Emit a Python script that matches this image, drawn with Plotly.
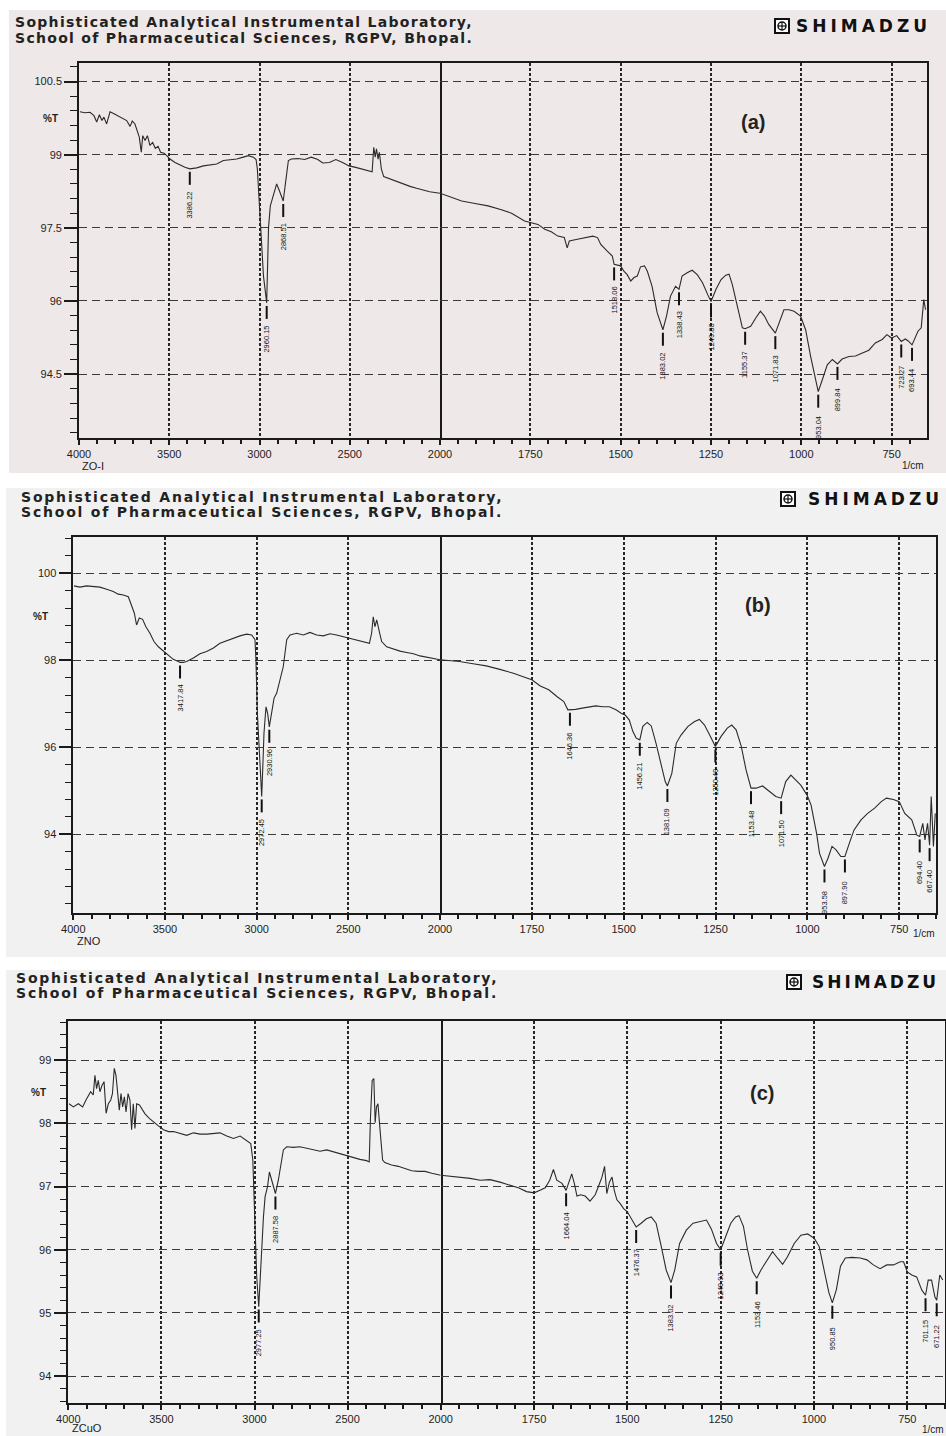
import numpy as np
import plotly.graph_objects as go

W, H = 946, 1436

# ---------------- Panel (a) : ZO-I ----------------
a_wavenumber = [3995, 3967, 3939, 3917, 3902, 3887, 3873, 3862, 3847, 3828, 3806, 3782, 3758, 3736, 3717,
                3705, 3690, 3677, 3666, 3655, 3647, 3634, 3621, 3607, 3592, 3577, 3562, 3548, 3529, 3514,
                3496, 3468, 3440, 3413, 3386.22, 3348, 3311, 3274, 3237, 3200, 3163, 3126, 3090, 3062, 3034,
                3019, 3012, 3002, 2990, 2978, 2960.15, 2955, 2950, 2940, 2928, 2905, 2893, 2868.51, 2858,
                2850, 2840, 2823, 2786, 2750, 2713, 2677, 2650, 2613, 2577, 2540, 2504, 2467, 2431, 2394,
                2376, 2367, 2359, 2352, 2343, 2336, 2325, 2312, 2276, 2239, 2203, 2166, 2130, 2093, 2057,
                2000,
                1940, 1903, 1867, 1830, 1802, 1766, 1750, 1729, 1710, 1692, 1674, 1656, 1648, 1642, 1623,
                1600, 1577, 1564, 1555, 1537, 1523, 1518.06, 1500, 1491, 1482, 1472, 1463, 1454, 1445, 1434,
                1426, 1413, 1399, 1383.02, 1373, 1362, 1348, 1338.43, 1330, 1316, 1302, 1288, 1273, 1259,
                1249.80, 1236, 1222, 1209, 1200, 1191, 1177, 1163, 1155.37, 1140, 1126, 1113, 1102, 1090,
                1071.83, 1062, 1048, 1034, 1020, 1002, 988, 974, 960, 953.04, 942, 928, 914, 899.84, 887,
                868, 850, 831, 813, 795, 776, 763, 750, 736, 723.27, 712, 704, 693.44, 686, 677, 668, 661, 656]
a_transmittance = [99.88, 99.86, 99.87, 99.80, 99.67, 99.82, 99.70, 99.77, 99.63, 99.88, 99.84, 99.79, 99.75,
                   99.70, 99.58, 99.69, 99.63, 99.46, 99.36, 99.05, 99.39, 99.29, 99.39, 99.19, 99.25, 99.13,
                   99.17, 99.05, 99.03, 98.98, 98.91, 98.84, 98.79, 98.74, 98.71, 98.73, 98.77, 98.79, 98.81,
                   98.88, 98.90, 98.91, 98.95, 98.98, 98.95, 98.90, 98.71, 98.09, 97.20, 96.51, 95.96, 96.90,
                   97.50, 97.95, 98.12, 98.40, 98.29, 98.05, 98.36, 98.64, 98.88, 98.91, 98.92, 98.90, 98.95,
                   98.90, 98.83, 98.84, 98.90, 98.84, 98.77, 98.74, 98.71, 98.67, 98.65, 99.15, 98.95, 99.12,
                   98.91, 99.05, 98.71, 98.55, 98.50, 98.44, 98.40, 98.35, 98.31, 98.27, 98.24, 98.21,
                   98.05, 98.00, 97.95, 97.87, 97.80, 97.64, 97.61, 97.57, 97.47, 97.42, 97.33, 97.30, 97.09,
                   97.23, 97.26, 97.30, 97.33, 97.30, 97.16, 97.02, 96.92, 96.75, 96.72, 96.61, 96.54, 96.41,
                   96.48, 96.51, 96.70, 96.72, 96.61, 96.30, 95.76, 95.41, 95.69, 96.10, 96.30, 96.24, 96.51,
                   96.58, 96.63, 96.54, 96.37, 96.13, 95.99, 96.24, 96.44, 96.53, 96.55, 96.34, 95.90, 95.45,
                   95.43, 95.48, 95.65, 95.79, 95.69, 95.52, 95.34, 95.55, 95.82, 95.82, 95.79, 95.69, 95.41,
                   94.86, 94.38, 94.14, 94.38, 94.69, 94.80, 94.71, 94.81, 94.86, 94.87, 94.93, 94.99, 95.14,
                   95.21, 95.31, 95.24, 95.29, 95.17, 95.22, 95.18, 95.10, 95.24, 95.38, 95.45, 96.03, 95.82]
a_peaks = ["3386.22", "2960.15", "2868.51", "1518.06", "1383.02", "1338.43", "1249.80", "1155.37",
           "1071.83", "953.04", "899.84", "723.27", "693.44"]

# ---------------- Panel (b) : ZnO ----------------
b_wavenumber = [3996, 3964, 3927, 3891, 3855, 3818, 3782, 3755, 3727, 3700, 3682, 3667, 3655, 3640, 3622,
                3604, 3582, 3560, 3536, 3509, 3482, 3455, 3427, 3417.84, 3400, 3382, 3345, 3309, 3273, 3236,
                3200, 3164, 3127, 3091, 3055, 3027, 3009, 3004, 2996, 2989, 2982, 2972.45, 2967, 2960, 2949,
                2940, 2930.96, 2918, 2905, 2891, 2873, 2855, 2836, 2818, 2782, 2745, 2709, 2673, 2636, 2600,
                2564, 2527, 2491, 2454, 2418, 2385, 2373, 2364, 2355, 2345, 2331, 2318, 2291, 2255, 2218,
                2182, 2145, 2109, 2073, 2036, 2000,
                1947, 1910, 1874, 1837, 1800, 1764, 1750, 1727, 1704, 1681, 1663, 1652, 1646.36, 1631, 1613,
                1594, 1576, 1558, 1539, 1521, 1507, 1496, 1485, 1475, 1466, 1456.21, 1448, 1436, 1425, 1412,
                1398, 1387, 1381.09, 1369, 1357, 1344, 1325, 1307, 1294, 1280, 1266, 1250.49, 1235, 1218,
                1206, 1194, 1180, 1167, 1153.48, 1140, 1122, 1104, 1086, 1071.50, 1059, 1045, 1032, 1018,
                1001, 990, 975, 967, 953.58, 944, 933, 922, 909, 897.90, 886, 873, 854, 836, 817, 799, 785,
                766, 750, 735, 716, 702, 694.40, 686, 680, 673, 667.40, 663, 657, 652]
b_transmittance = [99.71, 99.68, 99.71, 99.69, 99.68, 99.63, 99.58, 99.52, 99.50, 99.46, 99.23, 99.08, 98.81,
                   98.97, 98.94, 98.77, 98.62, 98.43, 98.31, 98.22, 98.12, 98.02, 97.97, 97.95, 97.95, 97.97,
                   98.05, 98.15, 98.20, 98.28, 98.39, 98.45, 98.51, 98.56, 98.60, 98.58, 98.47, 98.01, 96.78,
                   96.17, 95.48, 94.87, 95.48, 96.32, 96.93, 96.78, 96.47, 96.86, 97.13, 97.24, 97.55, 97.85,
                   98.47, 98.58, 98.62, 98.58, 98.64, 98.58, 98.56, 98.61, 98.58, 98.54, 98.51, 98.47, 98.43,
                   98.39, 98.62, 99.00, 98.77, 98.93, 98.66, 98.43, 98.31, 98.26, 98.21, 98.18, 98.15, 98.10,
                   98.07, 98.03, 98.01,
                   97.97, 97.92, 97.87, 97.79, 97.70, 97.59, 97.55, 97.41, 97.32, 97.16, 97.05, 96.86, 96.86,
                   96.87, 96.90, 96.92, 96.95, 96.93, 96.93, 96.86, 96.78, 96.74, 96.63, 96.36, 96.21, 96.17,
                   96.48, 96.57, 96.49, 96.09, 95.56, 95.21, 95.11, 95.40, 96.09, 96.28, 96.48, 96.59, 96.64,
                   96.51, 96.28, 96.02, 96.25, 96.44, 96.51, 96.40, 96.02, 95.48, 95.06, 95.06, 95.11, 94.98,
                   94.87, 94.83, 95.21, 95.36, 95.25, 95.13, 94.90, 94.67, 94.02, 93.56, 93.26, 93.45, 93.72,
                   93.64, 93.49, 93.49, 93.79, 94.10, 94.33, 94.48, 94.60, 94.75, 94.83, 94.80, 94.75, 94.48,
                   94.33, 93.98, 93.95, 94.25, 93.87, 94.25, 93.75, 94.87, 93.72, 94.48]
b_peaks = ["3417.84", "2972.45", "2930.96", "1646.36", "1456.21", "1381.09", "1250.49", "1153.48",
           "1071.50", "953.58", "897.90", "694.40", "667.40"]

# ---------------- Panel (c) : ZnCuO ----------------
c_wavenumber = [3996, 3973, 3946, 3923, 3905, 3892, 3880, 3866, 3857, 3848, 3839, 3830, 3819, 3808, 3797,
                3785, 3772, 3763, 3753, 3744, 3735, 3726, 3717, 3708, 3699, 3690, 3679, 3669, 3660, 3651,
                3642, 3633, 3618, 3606, 3588, 3565, 3543, 3516, 3489, 3462, 3435, 3400, 3364, 3328, 3292,
                3256, 3220, 3185, 3149, 3113, 3077, 3041, 3020, 3009, 3002, 2995, 2988, 2977.25, 2970, 2961,
                2952, 2943, 2930, 2920, 2907, 2895, 2887.58, 2872, 2859, 2845, 2827, 2791, 2756, 2720, 2684,
                2648, 2612, 2577, 2541, 2505, 2470, 2434, 2398, 2384, 2377, 2368, 2359, 2352, 2345, 2337,
                2327, 2312, 2300, 2264, 2228, 2192, 2156, 2120, 2084, 2048, 2000,
                1948, 1921, 1894, 1868, 1841, 1814, 1792, 1770, 1750, 1734, 1720, 1708, 1698, 1689, 1675,
                1664.04, 1655, 1649, 1642, 1635, 1625, 1613, 1600, 1586, 1577, 1568, 1561, 1555, 1548, 1541,
                1535, 1528, 1519, 1510, 1500, 1489, 1476.37, 1463, 1449, 1436, 1423, 1409, 1396, 1383.02,
                1373, 1360, 1342, 1324, 1306, 1288, 1275, 1261, 1249.93, 1237, 1223, 1210, 1201, 1189, 1178,
                1165, 1153.46, 1142, 1129, 1111, 1098, 1084, 1071, 1053, 1035, 1017, 999, 986, 973, 960,
                950.85, 940, 929, 916, 898, 876, 858, 841, 823, 805, 787, 769, 760, 750, 738, 725, 711,
                701.15, 694, 685, 676, 671.22, 663, 655]
c_transmittance = [98.31, 98.26, 98.31, 98.26, 98.37, 98.43, 98.50, 98.45, 98.76, 98.55, 98.68, 98.50, 98.60,
                   98.66, 98.16, 98.31, 98.37, 98.47, 98.87, 98.76, 98.53, 98.21, 98.47, 98.26, 98.42, 98.18,
                   98.47, 98.37, 97.90, 98.31, 97.92, 98.31, 98.29, 98.24, 98.15, 98.08, 98.02, 97.96, 97.90,
                   97.87, 97.87, 97.84, 97.81, 97.85, 97.83, 97.83, 97.84, 97.85, 97.80, 97.76, 97.80, 97.73,
                   97.68, 97.42, 96.89, 96.10, 95.57, 95.10, 95.52, 95.99, 96.52, 96.84, 97.00, 97.23, 97.10,
                   96.94, 96.89, 97.10, 97.36, 97.58, 97.63, 97.62, 97.63, 97.61, 97.58, 97.56, 97.58, 97.55,
                   97.51, 97.48, 97.46, 97.43, 97.41, 97.39, 98.10, 98.68, 98.71, 98.01, 98.26, 98.31, 97.94,
                   97.42, 97.38, 97.34, 97.32, 97.29, 97.25, 97.24, 97.24, 97.21, 97.18,
                   97.15, 97.13, 97.10, 97.11, 97.07, 97.02, 96.98, 96.92, 96.90, 96.94, 96.98, 97.10, 97.27,
                   97.10, 97.05, 96.94, 97.10, 97.20, 97.05, 96.85, 96.87, 96.85, 96.77, 96.87, 97.01, 97.15,
                   97.32, 96.89, 97.07, 97.15, 96.94, 96.79, 96.73, 96.65, 96.60, 96.49, 96.36, 96.42, 96.49,
                   96.52, 96.42, 96.05, 95.68, 95.48, 95.68, 96.10, 96.31, 96.42, 96.45, 96.47, 96.33, 96.10,
                   96.00, 96.21, 96.42, 96.52, 96.54, 96.37, 96.00, 95.66, 95.55, 95.68, 95.81, 95.97, 95.87,
                   95.77, 95.89, 96.10, 96.23, 96.25, 96.18, 96.05, 95.68, 95.32, 95.16, 95.37, 95.74, 95.87,
                   95.88, 95.87, 95.84, 95.76, 95.70, 95.76, 95.76, 95.81, 95.81, 95.65, 95.60, 95.57, 95.36,
                   95.28, 95.52, 95.52, 95.25, 95.20, 95.60, 95.52]
c_peaks = ["2977.25", "2887.58", "1664.04", "1476.37", "1383.02", "1249.93", "1153.46", "950.85",
           "701.15", "671.22"]

header_1 = "Sophisticated Analytical Instrumental Laboratory,"
header_2 = "School of Pharmaceutical Sciences, RGPV, Bhopal."
brand = "SHIMADZU"

# ---------------- layout helpers (pixel geometry) ----------------
def fx(p):
    return p / W


def fy(p):
    return 1 - p / H


panels = [
    dict(wn=a_wavenumber, t=a_transmittance, peaks=a_peaks, sample="ZO-I", tag="(a)",
         left=79, mid=440, right=927, top=63, bottom=438, yrange=[93.19, 100.88], ydtick=1.5, yminor=0.3,
         xend=652, bg=(9, 10, 946, 473, "#efe8e8"), head=(14, 22, 38, 14, 1.3),
         logo=(775, 19, 33, 795, 17, 4), pt=(50, 119), samp=(93, 466), unit=(913, 465), tagpos=(753, 122)),
    dict(wn=b_wavenumber, t=b_transmittance, peaks=b_peaks, sample="ZNO", tag="(b)",
         left=73.3, mid=440, right=936, top=536.7, bottom=913, yrange=[92.19, 100.84], ydtick=2, yminor=0.4,
         xend=650, bg=(6, 488, 946, 957, "#f1f1f1"), head=(20, 497, 512, 14, 1.8),
         logo=(781, 492, 506, 807, 17, 4), pt=(40, 617), samp=(89, 941), unit=(924, 934), tagpos=(758, 605)),
    dict(wn=c_wavenumber, t=c_transmittance, peaks=c_peaks, sample="ZCuO", tag="(c)",
         left=68.3, mid=440.7, right=945, top=1021, bottom=1403.3, yrange=[93.57, 99.62], ydtick=1, yminor=0.2,
         xend=649, bg=(6, 970, 946, 1436, "#f1f1f1"), head=(15, 978, 993, 14, 1.8),
         logo=(787, 975, 989, 811, 17, 3), pt=(38, 1092), samp=(87, 1428), unit=(933, 1429), tagpos=(762, 1093)),
]

fig = go.Figure()
layout = dict(width=W, height=H, margin=dict(l=0, r=0, t=0, b=0, autoexpand=False), paper_bgcolor="white",
              plot_bgcolor="rgba(0,0,0,0)", showlegend=False)
shapes = []
annotations = []

INK = "#1a1a1a"
XGRID = "#262626"
YGRID = "#3a3a3a"
TICKFONT = dict(family="Liberation Sans, Arial, sans-serif", size=11, color="#1e1e1e")
LINE_TOP, LINE_BOTTOM = 3, 16          # peak marker line (pixels below the dip)


def note(text, x, y, size, bold=False, family="Liberation Sans, Arial", color="#222"):
    return dict(text=f"<b>{text}</b>" if bold else text, x=fx(x), y=fy(y), xref="paper", yref="paper",
                xanchor="center", yanchor="middle", showarrow=False, borderpad=0,
                font=dict(family=family, size=size, color=color))


for i, p in enumerate(panels):
    n1, n2 = 2 * i + 1, 2 * i + 2
    xa1 = "x" if n1 == 1 else f"x{n1}"
    xa2 = f"x{n2}"
    ya1 = "y" if n1 == 1 else f"y{n1}"
    ya2 = f"y{n2}"
    xk1 = "xaxis" if n1 == 1 else f"xaxis{n1}"
    xk2 = f"xaxis{n2}"
    yk1 = "yaxis" if n1 == 1 else f"yaxis{n1}"
    yk2 = f"yaxis{n2}"

    wn = np.array(p["wn"], dtype=float)
    t = np.array(p["t"], dtype=float)
    hi = wn >= 2000
    lo = wn <= 2000
    fig.add_trace(go.Scatter(x=wn[hi], y=t[hi], xaxis=xa1, yaxis=ya1, mode="lines",
                             line=dict(color="#2b2b2b", width=1.1), hoverinfo="skip"))
    fig.add_trace(go.Scatter(x=wn[lo], y=t[lo], xaxis=xa2, yaxis=ya2, mode="lines",
                             line=dict(color="#2b2b2b", width=1.1), hoverinfo="skip"))

    dom1 = [fx(p["left"]), fx(p["mid"])]
    dom2 = [fx(p["mid"]), fx(p["right"])]
    ydom = [fy(p["bottom"]), fy(p["top"])]

    common_x = dict(ticks="outside", ticklen=5, tickwidth=1.5, tickcolor=INK, automargin=False,
                    showgrid=True, gridcolor=XGRID, gridwidth=1.6, griddash="3px,2px",
                    showline=True, linecolor=INK, linewidth=1.6, mirror=True, zeroline=False,
                    tickfont=TICKFONT, fixedrange=True)
    layout[xk1] = dict(common_x, domain=dom1, range=[4000, 2000], anchor=ya1,
                       tickmode="array", tickvals=[4000, 3500, 3000, 2500, 2000],
                       minor=dict(tickmode="array", tickvals=[3900, 3800, 3700, 3600, 3400, 3300, 3200, 3100,
                                                              2900, 2800, 2700, 2600, 2400, 2300, 2200, 2100],
                                  ticks="outside", ticklen=4, tickwidth=1.5, tickcolor=INK, showgrid=False))
    layout[xk2] = dict(common_x, domain=dom2, range=[2000, p["xend"]], anchor=ya2,
                       tickmode="array", tickvals=[1750, 1500, 1250, 1000, 750],
                       minor=dict(tickmode="array", tickvals=[1950, 1900, 1850, 1800, 1700, 1650, 1600, 1550,
                                                              1450, 1400, 1350, 1300, 1200, 1150, 1100, 1050,
                                                              950, 900, 850, 800, 700, 650],
                                  ticks="outside", ticklen=4, tickwidth=1.5, tickcolor=INK, showgrid=False))
    common_y = dict(range=p["yrange"], domain=ydom, showgrid=True, gridcolor=YGRID, gridwidth=1.1,
                    griddash="8px,5px", zeroline=False, fixedrange=True, automargin=False,
                    tickmode="linear", tick0=0, dtick=p["ydtick"])
    layout[yk1] = dict(common_y, anchor=xa1, ticks="outside", ticklen=13, tickwidth=1.5, tickcolor=INK,
                       showline=True, linecolor=INK, linewidth=1.6, mirror=True, tickfont=TICKFONT,
                       minor=dict(dtick=p["yminor"], tick0=0, ticks="outside", ticklen=7, tickwidth=1.3,
                                  tickcolor=INK, showgrid=False))
    layout[yk2] = dict(common_y, anchor=xa2, matches=ya1, ticks="", showticklabels=False, side="right",
                       showline=True, linecolor=INK, linewidth=1.6, mirror=False)

    # panel background
    bx0, by0, bx1, by1, bcol = p["bg"]
    shapes.append(dict(type="rect", xref="paper", yref="paper", x0=fx(bx0), x1=fx(bx1), y0=fy(by1), y1=fy(by0),
                       fillcolor=bcol, line=dict(width=0), layer="below"))

    # header text (letter-spaced bold, like the instrument printout)
    hx, hy1, hy2, hs, ls = p["head"]
    for txt, yy in ((header_1, hy1), (header_2, hy2)):
        annotations.append(dict(text=f"<span style='letter-spacing:{ls}px'><b>{txt}</b></span>",
                                x=fx(hx), y=fy(yy), xref="paper", yref="paper",
                                xanchor="left", yanchor="middle", showarrow=False, borderpad=0,
                                font=dict(family="DejaVu Sans, Verdana, sans-serif", size=hs, color="#222")))

    # Shimadzu logo
    lx, ly0, ly1, ltx, lsz, lls = p["logo"]
    side = ly1 - ly0
    shapes.append(dict(type="rect", xref="paper", yref="paper", x0=fx(lx), x1=fx(lx + side),
                       y0=fy(ly1), y1=fy(ly0), line=dict(color="#111", width=2), fillcolor="white"))
    shapes.append(dict(type="circle", xref="paper", yref="paper", x0=fx(lx + 3), x1=fx(lx + side - 3),
                       y0=fy(ly1 - 3), y1=fy(ly0 + 3), line=dict(color="#111", width=1.5)))
    shapes.append(dict(type="line", xref="paper", yref="paper", x0=fx(lx + side / 2), x1=fx(lx + side / 2),
                       y0=fy(ly1 - 3), y1=fy(ly0 + 3), line=dict(color="#111", width=1.2)))
    shapes.append(dict(type="line", xref="paper", yref="paper", x0=fx(lx + 3), x1=fx(lx + side - 3),
                       y0=fy((ly0 + ly1) / 2), y1=fy((ly0 + ly1) / 2), line=dict(color="#111", width=1.2)))
    annotations.append(dict(text=f"<span style='letter-spacing:{lls}px'><b>{brand}</b></span>",
                            x=fx(ltx), y=fy((ly0 + ly1) / 2), xref="paper",
                            yref="paper", xanchor="left", yanchor="middle", showarrow=False, borderpad=0,
                            font=dict(family="DejaVu Sans, Verdana, sans-serif", size=lsz, color="#111")))

    # %T, sample name, unit, panel tag
    annotations.append(note("%T", p["pt"][0], p["pt"][1], 10, bold=True))
    annotations.append(note(p["sample"], p["samp"][0], p["samp"][1], 11))
    annotations.append(note("1/cm", p["unit"][0], p["unit"][1], 10))
    annotations.append(note(p["tag"], p["tagpos"][0], p["tagpos"][1], 20, bold=True))

    # peak labels: short vertical marker + rotated wavenumber text
    order = np.argsort(wn)
    for s in p["peaks"]:
        v = float(s)
        yv = float(np.interp(v, wn[order], t[order]))
        xr = xa1 if v >= 2000 else xa2
        yr = ya1 if v >= 2000 else ya2
        shapes.append(dict(type="line", xref=xr, yref=yr, x0=v, x1=v, ysizemode="pixel", yanchor=yv,
                           y0=-LINE_TOP, y1=-LINE_BOTTOM, line=dict(color="#111", width=2)))
        annotations.append(dict(text=s, x=v, y=yv, xref=xr, yref=yr, showarrow=False, textangle=-90,
                                xanchor="center", yanchor="middle", yshift=-(LINE_BOTTOM + 20),
                                font=dict(family="Liberation Sans, Arial", size=7.5, color="#111")))

layout["shapes"] = shapes
layout["annotations"] = annotations
fig.update_layout(**layout)
fig.write_html("out.html")
